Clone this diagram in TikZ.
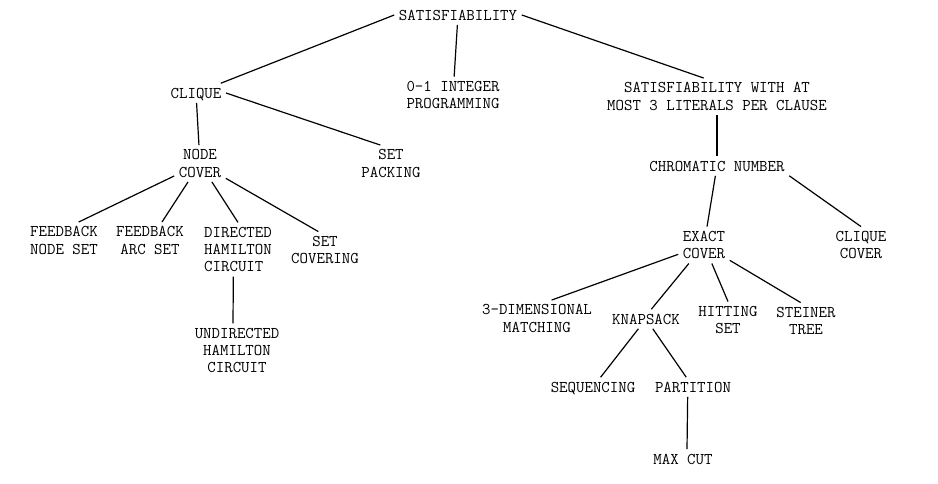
\documentclass[tikz,border=0pt]{standalone}
\usepackage{tikz}

\begin{document}
\begin{tikzpicture}[x=.75pt,y=-.75pt,line width=.9pt,
  prob/.style={align=center,inner sep=1.5pt,outer sep=2pt,text depth=0pt,
    font=\fontsize{12.3}{13}\selectfont\ttfamily}]
\useasboundingbox (0,0) rectangle (938,483);
% top levels
\node[prob] (sat) at (458,15) {SATISFIABILITY};
\node[prob] (ilp) at (453,95) {0-1 INTEGER\\PROGRAMMING};
\node[prob] (sat3) at (717,96.5) {SATISFIABILITY WITH AT\\MOST 3 LITERALS PER CLAUSE};
\node[prob] (clique) at (196,93) {CLIQUE};
\node[prob] (nodecover) at (200,163.5) {NODE\\COVER};
\node[prob] (setpack) at (391,163.5) {SET\\PACKING};
\node[prob] (chrom) at (717,166) {CHROMATIC NUMBER};
\node[prob] (cliquecover) at (861,245) {CLIQUE\\COVER};
\node[prob] (exactcover) at (704,245) {EXACT\\COVER};
% below node cover
\node[prob] (fbnode) at (64,240.5) {FEEDBACK\\NODE SET};
\node[prob] (fbarc) at (150,240.5) {FEEDBACK\\ARC SET};
\node[prob,align=left] (dirham) at (238,249.5) {DIRECTED\\HAMILTON\\CIRCUIT};
\node[prob] (setcover) at (325,250) {SET\\COVERING};
\node[prob] (undirham) at (237,350.5) {UNDIRECTED\\HAMILTON\\CIRCUIT};
% below exact cover
\node[prob] (threedm) at (537,318.5) {3-DIMENSIONAL\\MATCHING};
\node[prob] (knapsack) at (646,319) {KNAPSACK};
\node[prob] (hitting) at (728,320) {HITTING\\SET};
\node[prob] (steiner) at (806,321) {STEINER\\TREE};
\node[prob] (seq) at (593,387) {SEQUENCING};
\node[prob] (partition) at (693,387) {PARTITION};
\node[prob] (maxcut) at (683,459) {MAX CUT};
% reductions
\draw (sat.west) -- (clique);
\draw (sat) -- (ilp);
\draw (sat.east) -- ([xshift=-10pt]sat3.north);
\draw (clique) -- (nodecover);
\draw (clique.east) -- ([xshift=-8pt]setpack.north);
\draw (nodecover) -- ([xshift=11pt]fbnode.north);
\draw (nodecover) -- (fbarc);
\draw (nodecover) -- (dirham.north);
\draw (nodecover) -- ([xshift=-5pt]setcover.north);
\draw ([xshift=-3.5pt]dirham.south) -- ([xshift=-3pt]undirham.north);
\draw (sat3) -- (chrom);
\draw (chrom) -- (exactcover);
\draw (chrom.south east) -- (cliquecover.north);
\draw (exactcover) -- ([xshift=11pt]threedm.north);
\draw (exactcover) -- ([xshift=4pt]knapsack.north);
\draw (exactcover) -- (hitting.north);
\draw (exactcover) -- ([xshift=-4pt]steiner.north);
\draw (knapsack) -- (seq);
\draw (knapsack) -- (partition);
\draw ([xshift=-4pt]partition.south) -- ([xshift=3pt]maxcut.north);
\end{tikzpicture}
\end{document}
